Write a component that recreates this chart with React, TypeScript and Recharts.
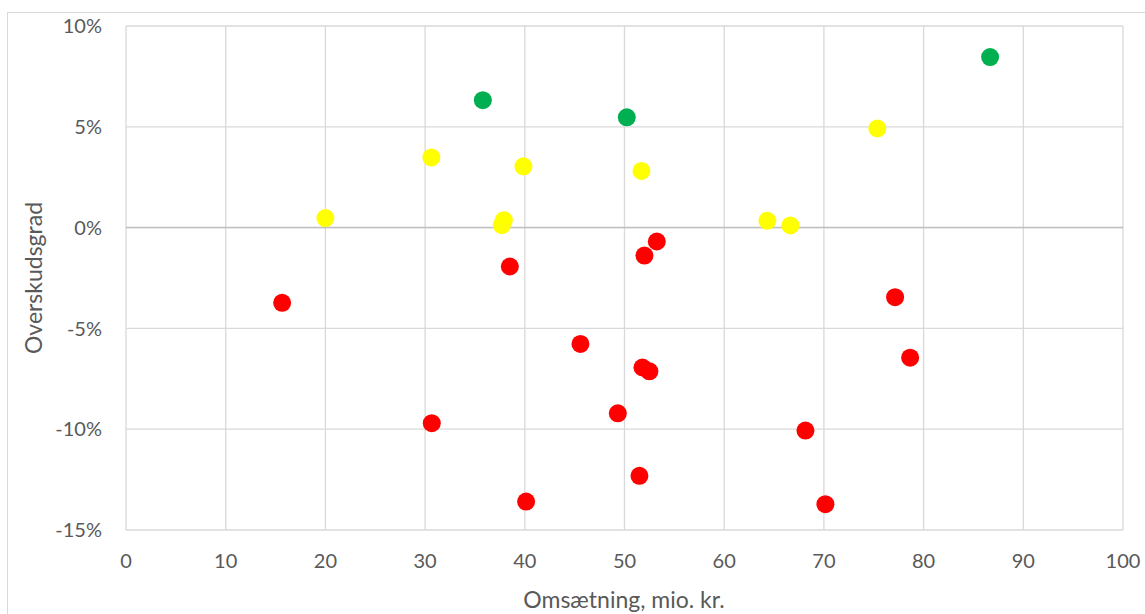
import React from 'react';
import {
  ScatterChart,
  Scatter,
  XAxis,
  YAxis,
  CartesianGrid,
  ReferenceLine,
} from 'recharts';

// omsætning (mio. kr.) and overskudsgrad (%) per company, grouped by colour
const greenX = [35.79, 50.23, 86.67];
const greenY = [6.32, 5.47, 8.46];
const yellowX = [20.0, 30.63, 37.9, 37.7, 39.86, 51.7, 64.33, 66.64, 75.36];
const yellowY = [0.47, 3.48, 0.37, 0.12, 3.04, 2.81, 0.34, 0.11, 4.92];
const redX = [15.66, 30.67, 38.5, 40.13, 45.58, 49.33, 51.5, 51.8, 52.5, 52.0, 53.24, 68.15, 70.15, 77.14, 78.65];
const redY = [-3.73, -9.7, -1.93, -13.59, -5.77, -9.21, -12.31, -6.94, -7.13, -1.39, -0.69, -10.07, -13.72, -3.45, -6.45];

const xTicks = [0, 10, 20, 30, 40, 50, 60, 70, 80, 90, 100];
const yTicks = [-15, -10, -5, 0, 5, 10];

const font = 'Lato, "Open Sans", sans-serif';
const textColor = '#595959';

const toPoints = (xs: number[], ys: number[]) => xs.map((x, i) => ({ x, y: ys[i] }));

const dot = (color: string) => (props: any) => (
  <circle cx={props.cx} cy={props.cy} r={9} fill={color} />
);

export default function App() {
  const tick = { fill: textColor, fontSize: 20, fontFamily: font };

  return (
    <div style={{ position: 'relative', width: 1145, height: 614, overflow: 'hidden', background: '#fff' }}>
      <style>{`body { margin: 0; }`}</style>
      <div
        style={{
          position: 'absolute',
          left: 7,
          top: 12,
          width: 1160,
          height: 640,
          border: '1.5px solid #D9D9D9',
          boxSizing: 'border-box',
        }}
      />
      <div style={{ position: 'absolute', left: 0, top: 0 }}>
        <ScatterChart width={1145} height={614} margin={{ top: 26, right: 22, left: 56, bottom: 24 }}>
          <CartesianGrid stroke="#D9D9D9" strokeWidth={1.3} />
          <XAxis
            type="number"
            dataKey="x"
            domain={[0, 100]}
            ticks={xTicks}
            axisLine={false}
            tickLine={false}
            tickSize={0}
            tickMargin={24}
            height={60}
            tick={tick}
          />
          <YAxis
            type="number"
            dataKey="y"
            domain={[-15, 10]}
            ticks={yTicks}
            axisLine={false}
            tickLine={false}
            tickSize={0}
            tickMargin={24}
            width={70}
            tick={tick}
            tickFormatter={(v: number) => `${v}%`}
          />
          <ReferenceLine y={0} stroke="#BFBFBF" strokeWidth={1.5} />
          <Scatter data={toPoints(greenX, greenY)} fill="#00B050" shape={dot('#00B050')} isAnimationActive={false} />
          <Scatter data={toPoints(yellowX, yellowY)} fill="#FFFF00" shape={dot('#FFFF00')} isAnimationActive={false} />
          <Scatter data={toPoints(redX, redY)} fill="#FF0000" shape={dot('#FF0000')} isAnimationActive={false} />
        </ScatterChart>
      </div>
      <div
        style={{
          position: 'absolute',
          left: 33,
          top: 278,
          transform: 'translate(-50%, -50%) rotate(-90deg)',
          whiteSpace: 'nowrap',
          fontFamily: font,
          fontSize: 23,
          color: textColor,
        }}
      >
        Overskudsgrad
      </div>
      <div
        style={{
          position: 'absolute',
          left: 624,
          top: 599,
          transform: 'translate(-50%, -50%)',
          whiteSpace: 'nowrap',
          fontFamily: font,
          fontSize: 23,
          color: textColor,
        }}
      >
        Omsætning, mio. kr.
      </div>
    </div>
  );
}
